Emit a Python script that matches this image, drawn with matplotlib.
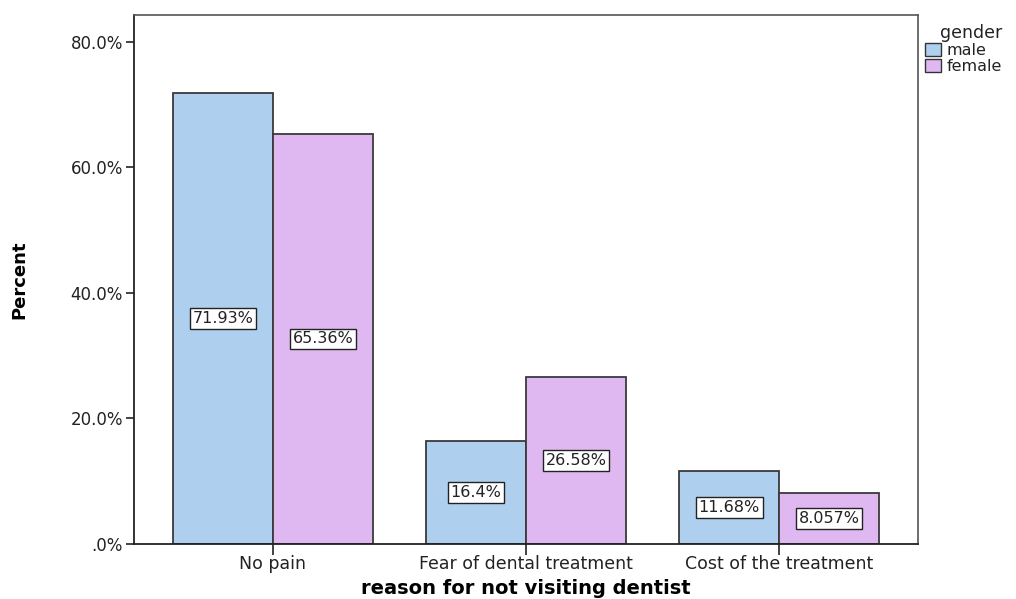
import numpy as np
import matplotlib.pyplot as plt
from matplotlib.patches import Patch
from matplotlib.ticker import FuncFormatter

reasons = ["No pain", "Fear of dental treatment", "Cost of the treatment"]
genders = ["male", "female"]
male_pct = [71.93, 16.4, 11.68]
female_pct = [65.36, 26.58, 8.057]
label_text = [["71.93%", "16.4%", "11.68%"], ["65.36%", "26.58%", "8.057%"]]
colors = ["#aed0ee", "#dfb8f2"]

plt.rcParams['font.family'] = ['DejaVu Sans']

fig = plt.figure(figsize=(10.16, 5.99), dpi=100)
ax = fig.add_axes([0.1319, 0.0918, 0.7717, 0.8832])

x = np.arange(len(reasons))
width = 0.395
for i, (vals, col) in enumerate(zip([male_pct, female_pct], colors)):
    pos = x + (i - 0.5) * width
    bars = ax.bar(pos, vals, width, color=col, edgecolor="#3a3a3a", linewidth=1.3, zorder=2)
    for b, v, t in zip(bars, vals, label_text[i]):
        ax.text(b.get_x() + b.get_width() / 2, v / 2, t, ha="center", va="center",
                fontsize=11.5, color="#222222", zorder=3,
                bbox=dict(boxstyle="square,pad=0.18", fc="white", ec="#222222", lw=1.0))

ax.set_xlim(-0.549, 2.549)
ax.set_ylim(0, 84.3)
ax.set_yticks([0, 20, 40, 60, 80])
ax.yaxis.set_major_formatter(FuncFormatter(lambda v, p: ".0%" if v == 0 else f"{v:.1f}%"))
ax.set_xticks(x)
ax.set_xticklabels(reasons)
ax.tick_params(axis="y", length=6, width=1.2, labelsize=12, colors="#222222", pad=2)
ax.tick_params(axis="x", length=8, width=1.2, labelsize=12.5, colors="#222222", pad=0)

for s in ["left", "bottom"]:
    ax.spines[s].set_color("#222222")
    ax.spines[s].set_linewidth(1.3)
for s in ["top", "right"]:
    ax.spines[s].set_color("#555555")
    ax.spines[s].set_linewidth(1.2)

ax.set_xlabel("reason for not visiting dentist", fontsize=14, fontweight="bold", va="center")
ax.xaxis.set_label_coords(0.5, -0.084)
ax.set_ylabel("Percent", fontsize=13, fontweight="bold", labelpad=30)

handles = [Patch(facecolor=c, edgecolor="#333333", linewidth=1.0) for c in colors]
leg = fig.legend(handles, genders, title="gender", loc="upper left",
                 bbox_to_anchor=(0.909, 0.962), frameon=False, fontsize=11.5,
                 title_fontsize=12.5, handlelength=1.0, handleheight=0.9,
                 handletextpad=0.35, labelspacing=0.05, borderaxespad=0, borderpad=0.1)
leg._legend_box.align = "right"
for t in leg.get_texts():
    t.set_color("#222222")
leg.get_title().set_color("#222222")

fig.savefig("out.png", dpi=100)
